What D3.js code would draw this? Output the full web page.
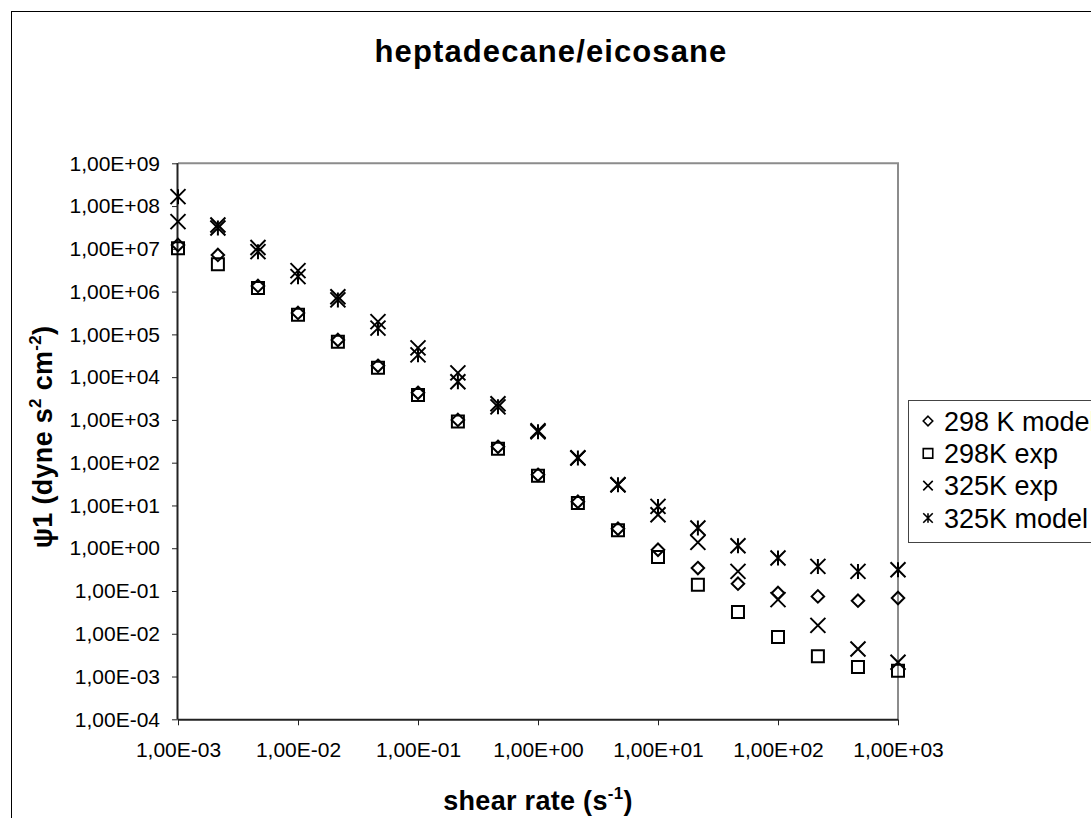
<!DOCTYPE html>
<html>
<head>
<meta charset="utf-8">
<script src="https://cdn.jsdelivr.net/npm/d3@7"></script>
<style>
  html, body { margin: 0; padding: 0; background: #fff; }
  svg text { font-family: "Liberation Sans", Arial, sans-serif; fill: #000; }
</style>
</head>
<body>
<svg id="chart" width="1091" height="818"></svg>
<script>
// Shear rate (s^-1), three points per decade
const shearRate = [0.001, 0.00215, 0.00464, 0.01, 0.0215, 0.0464, 0.1, 0.215, 0.464,
                   1, 2.15, 4.64, 10, 21.5, 46.4, 100, 215, 464, 1000];

// First normal stress coefficient psi1 (dyne s^2 cm^-2)
const model298 = [1.23e7, 7.2e6, 1.36e6, 3.18e5, 7.4e4, 1.84e4, 4.3e3, 1.0e3, 235,
                  52, 12.2, 2.85, 0.92, 0.344, 0.148, 0.0897, 0.0748, 0.0593, 0.0686];
const exp298   = [1.03e7, 4.37e6, 1.22e6, 2.86e5, 6.7e4, 1.65e4, 3.85e3, 918, 211,
                  49.4, 11.4, 2.64, 0.622, 0.140, 0.0323, 0.00841, 0.00296, 0.00167, 0.00137];
const exp325   = [4.32e7, 3.61e7, 1.07e7, 3.10e6, 7.6e5, 1.99e5, 4.84e4, 1.26e4, 2.38e3,
                  556, 130, 30.5, 6.05, 1.37, 0.287, 0.0627, 0.0157, 0.00442, 0.00215];
const model325 = [1.66e8, 3.08e7, 8.6e6, 2.24e6, 6.4e5, 1.40e5, 3.32e4, 7.8e3, 2.02e3,
                  527, 128, 30.5, 9.5, 2.96, 1.14, 0.59, 0.376, 0.287, 0.314];

const seriesNames = ["298 K model", "298K exp", "325K exp", "325K model"];
const seriesValues = [model298, exp298, exp325, model325];
const seriesShapes = ["diamond", "square", "cross", "asterisk"];

const xTicks = [1e-3, 1e-2, 1e-1, 1e0, 1e1, 1e2, 1e3];
const yTicks = [1e-4, 1e-3, 1e-2, 1e-1, 1e0, 1e1, 1e2, 1e3, 1e4, 1e5, 1e6, 1e7, 1e8, 1e9];

// Excel-style "1,00E+03" labels
function sci(v) {
  const e = Math.round(Math.log10(v));
  const sign = e < 0 ? "-" : "+";
  const a = Math.abs(e);
  return "1,00E" + sign + (a < 10 ? "0" + a : "" + a);
}

const svg = d3.select("#chart");
const W = 1091, H = 818;
const plot = { left: 178, right: 898, top: 163.3, bottom: 719.3 };

svg.append("rect").attr("width", W).attr("height", H).attr("fill", "#fff");

// chart-area frame (runs off the right and bottom edges)
svg.append("rect")
  .attr("x", 11.5).attr("y", 11.5)
  .attr("width", 1200).attr("height", 1000)
  .attr("fill", "none").attr("stroke", "#000").attr("stroke-width", 1);

const x = d3.scaleLog().domain([1e-3, 1e3]).range([plot.left, plot.right]);
const y = d3.scaleLog().domain([1e-4, 1e9]).range([plot.bottom, plot.top]);

// plot-area frame: grey top and right edges
svg.append("path")
  .attr("d", `M${plot.left},${plot.top}H${plot.right}V${plot.bottom}`)
  .attr("fill", "none").attr("stroke", "#8c8c8c").attr("stroke-width", 2);

// axes
const xAxis = d3.axisBottom(x).tickValues(xTicks).tickFormat(sci).tickSize(6).tickPadding(17);
const yAxis = d3.axisLeft(y).tickValues(yTicks).tickFormat(sci).tickSize(6).tickPadding(12);

const gx = svg.append("g").attr("transform", `translate(0,${plot.bottom})`).call(xAxis);
const gy = svg.append("g").attr("transform", `translate(${plot.left},0)`).call(yAxis);

[gx, gy].forEach(g => {
  g.select(".domain").attr("stroke", "#222").attr("stroke-width", 2);
  g.selectAll(".tick line").attr("stroke", "#222").attr("stroke-width", 1);
  g.selectAll(".tick text")
    .attr("font-family", "'Liberation Sans', Arial, sans-serif")
    .attr("font-size", 21).attr("fill", "#000");
});
// plain domain lines without the outer tick stubs
gx.select(".domain").attr("d", `M${plot.left},0.5H${plot.right}`);
gy.select(".domain").attr("d", `M-0.5,${plot.bottom}V${plot.top}`);

// marker shapes, centred on the origin
function markerPath(shape, s) {
  const h = s / 2;
  switch (shape) {
    case "diamond":  return `M0,${-h}L${h},0L0,${h}L${-h},0Z`;
    case "square":   return `M${-h},${-h}H${h}V${h}H${-h}Z`;
    case "cross":    return `M${-h},${-h}L${h},${h}M${h},${-h}L${-h},${h}`;
    case "asterisk": return `M${-h},${-h}L${h},${h}M${h},${-h}L${-h},${h}M0,${-h}V${h}`;
  }
}
const markerSize = { diamond: 12.5, square: 12, cross: 15, asterisk: 15 };

seriesValues.forEach((vals, si) => {
  const shape = seriesShapes[si];
  svg.append("g")
    .selectAll("path")
    .data(vals.map((v, i) => [shearRate[i], v]))
    .join("path")
    .attr("transform", d => `translate(${x(d[0])},${y(d[1])})`)
    .attr("d", markerPath(shape, markerSize[shape]))
    .attr("fill", "none")
    .attr("stroke", "#000")
    .attr("stroke-width", 2);
});

// title
svg.append("text")
  .attr("x", 551).attr("y", 62)
  .attr("text-anchor", "middle")
  .attr("font-size", 31).attr("font-weight", "bold")
  .attr("letter-spacing", 1.1)
  .text("heptadecane/eicosane");

// x-axis title
const xt = svg.append("text")
  .attr("x", 538).attr("y", 810)
  .attr("text-anchor", "middle")
  .attr("font-size", 27).attr("font-weight", "bold")
  .attr("letter-spacing", 0.3);
xt.append("tspan").text("shear rate (s");
xt.append("tspan").attr("dy", -11).attr("font-size", 17).text("-1");
xt.append("tspan").attr("dy", 11).text(")");

// y-axis title
const yt = svg.append("text")
  .attr("transform", "translate(52,437) rotate(-90)")
  .attr("text-anchor", "middle")
  .attr("font-size", 27).attr("font-weight", "bold")
  .attr("letter-spacing", 0.3);
yt.append("tspan").text("\u03C81 (dyne s");
yt.append("tspan").attr("dy", -11).attr("font-size", 17).text("2");
yt.append("tspan").attr("dy", 11).text(" cm");
yt.append("tspan").attr("dy", -11).attr("font-size", 17).text("-2");
yt.append("tspan").attr("dy", 11).text(")");

// legend
const legend = { left: 908, top: 400, bottom: 542 };
svg.append("rect")
  .attr("x", legend.left + 0.5).attr("y", legend.top + 0.5)
  .attr("width", 400).attr("height", legend.bottom - legend.top)
  .attr("fill", "#fff").attr("stroke", "#444").attr("stroke-width", 1);

const rowY = d3.scalePoint().domain(seriesNames).range([421, 518]);
const lg = svg.append("g")
  .selectAll("g")
  .data(seriesNames)
  .join("g")
  .attr("transform", d => `translate(928,${rowY(d)})`);
lg.append("path")
  .attr("d", (d, i) => markerPath(seriesShapes[i], 9.5))
  .attr("fill", "none").attr("stroke", "#000").attr("stroke-width", 1.6);
lg.append("text")
  .attr("x", 16).attr("dy", "0.36em")
  .attr("font-size", 27)
  .text(d => d);
</script>
</body>
</html>
